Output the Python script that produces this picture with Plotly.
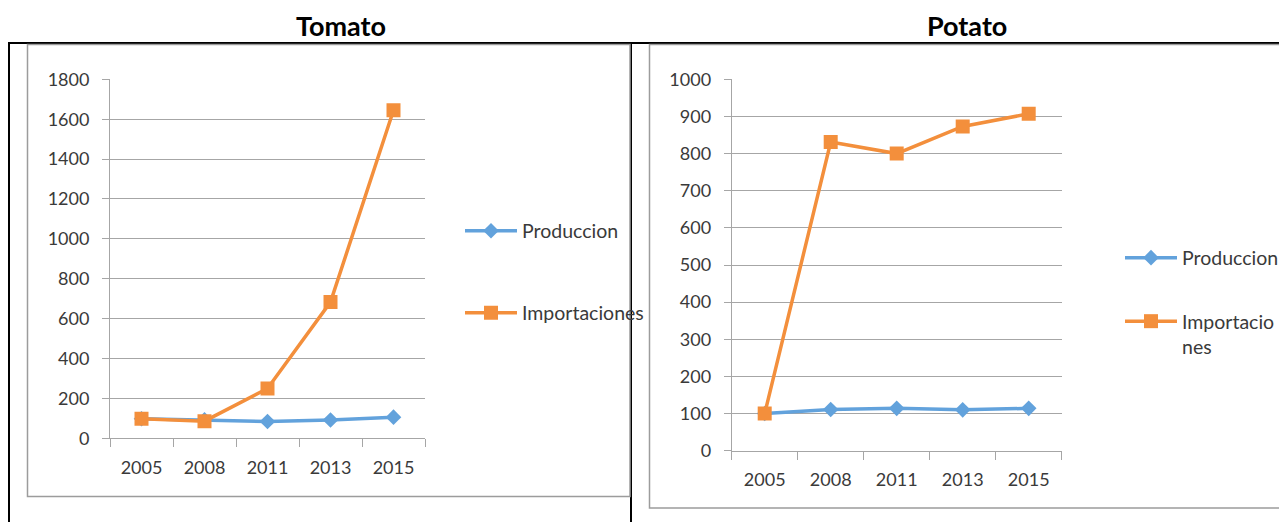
import plotly.graph_objects as go

W, H = 1279, 522

years = ["2005", "2008", "2011", "2013", "2015"]
tomato_produccion = [98, 93, 84, 92, 106]
tomato_importaciones = [98, 86, 250, 683, 1645]
potato_produccion = [100, 111, 114, 110, 114]
potato_importaciones = [100, 831, 800, 873, 907]

BLUE = "#62A2DC"
ORANGE = "#F38F3C"
GRID = "#A6A6A6"
TXT = "#3A3A3A"
FONT = "Lato"


def px(x):
    return x / W


def py(y):
    return 1 - y / H


fig = go.Figure()

series = [
    ("x", "y", "Produccion", tomato_produccion, BLUE, "diamond", 12, "legend"),
    ("x", "y", "Importaciones", tomato_importaciones, ORANGE, "square", 14, "legend2"),
    ("x2", "y2", "Produccion", potato_produccion, BLUE, "diamond", 12, "legend3"),
    ("x2", "y2", "Importacio<br>nes", potato_importaciones, ORANGE, "square", 14, "legend4"),
]
for xa, ya, name, vals, col, sym, sz, lg in series:
    fig.add_trace(go.Scatter(
        x=years, y=vals, name=name, xaxis=xa, yaxis=ya, mode="lines+markers",
        line=dict(color=col, width=3.5),
        marker=dict(symbol=sym, size=sz, color=col, line=dict(width=0)),
        legend=lg,
    ))

axis_common_x = dict(
    type="category", range=[-0.5, 4.5], tickson="boundaries", ticks="outside",
    ticklen=8, tickcolor=GRID, tickwidth=1, showline=True, linecolor=GRID,
    linewidth=1, showgrid=False, zeroline=False, automargin=False,
    tickfont=dict(family=FONT, size=18, color=TXT), ticklabelstandoff=13,
)
axis_common_y = dict(
    ticks="outside", ticklen=7, tickcolor=GRID, tickwidth=1, showline=True,
    linecolor=GRID, linewidth=1, showgrid=True, gridcolor=GRID, gridwidth=1,
    zeroline=False, automargin=False, tickfont=dict(family=FONT, size=18, color=TXT),
    ticklabelstandoff=9,
)

fig.update_layout(
    template="none",
    width=W, height=H, margin=dict(l=0, r=0, t=0, b=0, pad=0, autoexpand=False),
    paper_bgcolor="white", plot_bgcolor="white",
    xaxis=dict(domain=[px(110), px(425)], anchor="y", **axis_common_x),
    yaxis=dict(domain=[py(438.3), py(79.3)], anchor="x", range=[0, 1800],
               tickvals=list(range(0, 1801, 200)), **axis_common_y),
    xaxis2=dict(domain=[px(731.7), px(1061.7)], anchor="y2", **axis_common_x),
    yaxis2=dict(domain=[py(450.7), py(79.3)], anchor="x2", range=[0, 1000],
                tickvals=list(range(0, 1001, 100)), **axis_common_y),
    showlegend=True,
)

leg_font = dict(family=FONT, size=19.5, color=TXT)
leg_base = dict(font=leg_font, bgcolor="rgba(0,0,0,0)", borderwidth=0,
                itemwidth=52, xanchor="left", itemclick=False)
fig.update_layout(
    legend=dict(x=px(460), y=py(231), yanchor="middle", **leg_base),
    legend2=dict(x=px(460), y=py(313), yanchor="middle", **leg_base),
    legend3=dict(x=px(1120), y=py(258), yanchor="middle", **leg_base),
    legend4=dict(x=px(1120), y=py(302), yanchor="top", valign="top", **leg_base),
)

# Document table lines and chart frames
shapes = [
    dict(type="line", x0=8, x1=1279, y0=43, y1=43, line=dict(color="black", width=2)),
    dict(type="line", x0=9, x1=9, y0=43, y1=522, line=dict(color="black", width=2)),
    dict(type="line", x0=631, x1=631, y0=43, y1=522, line=dict(color="black", width=2)),
    dict(type="rect", x0=27.5, x1=630, y0=44.5, y1=496.5, line=dict(color="#9C9C9C", width=1.5)),
    dict(type="rect", x0=649.5, x1=1290, y0=44.5, y1=508, line=dict(color="#9C9C9C", width=1.5)),
]
for s in shapes:
    s.update(xref="paper", yref="paper")
    s["x0"], s["x1"] = px(s["x0"]), px(s["x1"])
    s["y0"], s["y1"] = py(s["y0"]), py(s["y1"])
    s["layer"] = "below"
fig.update_layout(shapes=shapes)

for text, cx in [("Tomato", 341), ("Potato", 967)]:
    fig.add_annotation(text="<b>" + text + "</b>", x=px(cx), y=py(26), xref="paper",
                       yref="paper", showarrow=False, xanchor="center", yanchor="middle",
                       font=dict(family=FONT, size=27, color="black"))

fig.write_html("out.html")
